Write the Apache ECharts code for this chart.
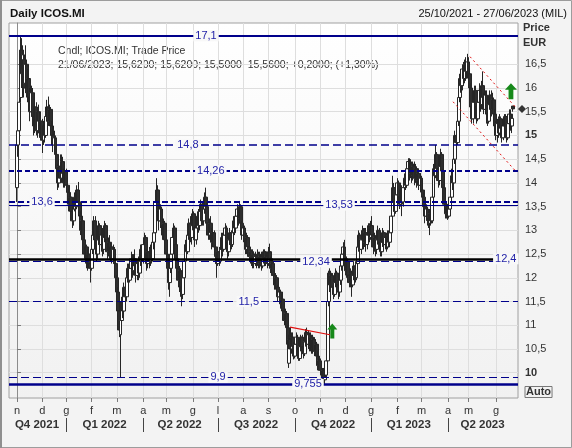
<!DOCTYPE html>
<html><head><meta charset="utf-8">
<script src="https://cdn.jsdelivr.net/npm/echarts@6/dist/echarts.min.js"></script>
<style>html,body{margin:0;padding:0;background:#f3f3f3}#c{width:572px;height:448px}</style>
</head><body><div id="c"></div>
<script>
// Daily candles ICOS.MI, 02/11/2021 .. 21/06/2023 (index = trading day)
const open = [
13.90,14.80,15.10,15.80,16.80,16.40,16.60,16.10,16.50,16.00,
16.20,15.80,15.50,15.90,15.40,15.20,15.60,15.10,15.50,15.30,
15.05,15.30,14.90,15.20,15.00,15.40,15.60,15.30,15.55,15.20,
15.00,14.80,14.95,14.60,14.30,14.00,14.35,14.10,14.45,14.20,
14.00,14.25,13.95,13.80,13.55,13.70,13.40,13.20,13.45,13.70,
13.50,13.85,13.60,13.30,13.00,13.20,12.80,12.50,12.65,12.35,
12.50,12.30,12.20,12.60,12.90,13.20,12.80,12.50,12.80,13.10,
12.70,12.90,12.60,12.85,13.10,12.80,12.55,12.75,12.50,12.65,
12.40,12.60,12.30,12.00,11.70,11.30,10.80,11.10,11.50,11.30,
11.80,11.60,12.00,12.20,11.95,12.20,12.40,12.15,12.40,12.25,
12.05,12.30,12.10,12.35,12.60,12.40,12.70,12.85,12.50,12.30,
12.55,12.35,12.60,12.40,12.75,12.95,13.60,13.85,13.40,13.20,
13.45,13.10,12.90,13.15,12.80,12.50,12.20,11.90,12.20,12.50,
12.85,13.05,12.70,12.40,12.20,11.95,12.15,11.80,11.65,12.00,
12.35,12.70,12.55,12.90,13.15,12.85,13.10,13.35,13.05,12.80,
13.05,13.30,13.10,13.40,13.55,13.20,13.45,13.70,13.50,13.15,
12.90,13.15,12.95,12.75,12.95,12.65,12.45,12.30,12.55,12.35,
12.60,12.85,12.60,12.90,13.05,12.75,12.55,12.80,12.95,12.70,
12.95,13.20,13.05,13.30,13.45,13.25,13.50,13.15,12.90,13.05,
12.80,12.60,12.85,12.65,12.45,12.55,12.35,12.50,12.30,12.45,
12.35,12.50,12.30,12.45,12.25,12.40,12.55,12.35,12.45,12.30,
12.55,12.40,12.20,12.30,12.05,11.85,12.00,11.80,11.60,11.70,
11.45,11.55,11.30,11.10,11.25,10.95,10.20,10.70,10.50,10.75,
10.55,10.35,10.60,10.75,10.50,10.30,10.55,10.75,10.55,10.40,
10.65,10.85,10.60,10.80,10.55,10.75,10.50,10.70,10.45,10.60,
10.35,10.15,10.25,10.05,9.95,10.05,9.85,9.95,10.25,11.50,
12.10,11.85,12.05,11.80,11.65,11.90,12.10,11.85,11.70,11.95,
12.25,12.50,12.65,12.40,12.15,12.35,12.05,11.90,12.10,11.85,
12.05,12.25,12.00,12.30,12.65,12.90,12.60,12.80,13.00,12.75,
12.95,12.70,12.90,13.10,12.85,13.10,12.90,12.65,12.85,12.60,
12.80,13.00,12.75,12.55,12.75,12.95,12.70,12.85,12.65,12.90,
12.75,12.95,13.30,13.90,13.60,13.40,13.75,14.00,13.70,13.55,
13.85,13.60,13.90,14.10,13.95,14.30,14.45,14.20,14.40,14.15,
14.35,14.10,14.30,14.05,14.20,13.95,14.10,13.85,13.70,13.50,
13.30,13.45,13.25,13.15,13.35,13.20,13.70,14.30,14.15,14.60,
14.30,14.05,14.35,14.60,14.25,13.90,13.55,13.35,13.50,13.30,
13.45,13.70,14.15,14.00,14.50,15.00,14.85,15.30,15.80,16.20,
16.05,16.40,16.20,16.50,16.35,16.55,16.30,16.00,15.60,15.35,
15.70,15.95,15.60,15.35,15.70,15.95,15.65,16.05,15.80,15.55,
15.85,15.45,15.30,15.65,15.85,15.55,15.75,15.45,15.20,15.00,
15.25,15.05,15.35,15.15,14.95,15.20,15.40,15.10,14.95,15.25,
15.45,15.20,15.62];
const close = [
14.80,15.10,15.70,16.80,16.30,16.70,16.00,16.50,15.90,16.20,
15.80,15.50,15.90,15.40,15.20,15.60,15.10,15.50,15.30,15.05,
15.30,14.90,15.20,15.00,15.40,15.60,15.30,15.55,15.20,15.00,
14.80,14.95,14.60,14.30,14.00,14.35,14.10,14.45,14.20,14.00,
14.25,13.95,13.80,13.55,13.70,13.40,13.20,13.45,13.70,13.50,
13.85,13.60,13.30,13.00,13.20,12.80,12.50,12.65,12.35,12.50,
12.30,12.20,12.60,12.90,13.20,12.80,12.50,12.80,13.10,12.70,
12.90,12.60,12.85,13.10,12.80,12.55,12.75,12.50,12.65,12.40,
12.60,12.30,12.00,11.70,11.30,10.90,11.10,11.50,11.30,11.80,
11.60,12.00,12.20,11.95,12.20,12.40,12.15,12.40,12.25,12.05,
12.30,12.10,12.35,12.60,12.40,12.70,12.85,12.50,12.30,12.55,
12.35,12.60,12.40,12.75,12.95,13.60,13.85,13.40,13.20,13.45,
13.10,12.90,13.15,12.80,12.50,12.20,11.90,12.20,12.50,12.85,
13.05,12.70,12.40,12.20,11.95,12.15,11.80,11.65,12.00,12.35,
12.70,12.55,12.90,13.15,12.85,13.10,13.35,13.05,12.80,13.05,
13.30,13.10,13.40,13.55,13.20,13.45,13.70,13.50,13.15,12.90,
13.15,12.95,12.75,12.95,12.65,12.45,12.30,12.55,12.35,12.60,
12.85,12.60,12.90,13.05,12.75,12.55,12.80,12.95,12.70,12.95,
13.20,13.05,13.30,13.45,13.25,13.50,13.15,12.90,13.05,12.80,
12.60,12.85,12.65,12.45,12.55,12.35,12.50,12.30,12.45,12.35,
12.50,12.30,12.45,12.25,12.40,12.55,12.35,12.45,12.30,12.55,
12.40,12.20,12.30,12.05,11.85,12.00,11.80,11.60,11.70,11.45,
11.55,11.30,11.10,11.25,10.95,10.60,10.70,10.50,10.75,10.55,
10.35,10.60,10.75,10.50,10.30,10.55,10.75,10.55,10.40,10.65,
10.85,10.60,10.80,10.55,10.75,10.50,10.70,10.45,10.60,10.35,
10.15,10.25,10.05,9.95,10.05,9.85,9.90,10.25,11.50,12.10,
11.85,12.05,11.80,11.65,11.90,12.10,11.85,11.70,11.95,12.25,
12.50,12.65,12.40,12.15,12.35,12.05,11.90,12.10,11.85,12.05,
12.25,12.00,12.30,12.65,12.90,12.60,12.80,13.00,12.75,12.95,
12.70,12.90,13.10,12.85,13.10,12.90,12.65,12.85,12.60,12.80,
13.00,12.75,12.55,12.75,12.95,12.70,12.85,12.65,12.90,12.75,
12.95,13.30,13.90,13.60,13.40,13.75,14.00,13.70,13.55,13.85,
13.60,13.90,14.10,13.95,14.30,14.45,14.20,14.40,14.15,14.35,
14.10,14.30,14.05,14.20,13.95,14.10,13.85,13.70,13.50,13.30,
13.45,13.25,13.15,13.35,13.20,13.70,14.30,14.15,14.60,14.30,
14.05,14.35,14.60,14.25,13.90,13.55,13.35,13.50,13.30,13.45,
13.70,14.15,14.00,14.50,15.00,14.85,15.30,15.80,16.20,16.05,
16.40,16.20,16.50,16.35,16.55,16.30,16.00,15.60,15.35,15.70,
15.95,15.60,15.35,15.70,15.95,15.65,16.05,15.80,15.55,15.85,
15.45,15.30,15.65,15.85,15.55,15.75,15.45,15.20,15.00,15.25,
15.05,15.35,15.15,14.95,15.20,15.40,15.10,14.95,15.25,15.45,
15.20,15.36,15.56];
const low = [
13.60,14.55,15.00,15.70,16.00,16.10,15.80,15.90,15.80,15.70,
15.60,15.30,15.40,15.20,15.00,15.05,15.00,14.95,15.10,14.95,
14.90,14.63,14.80,14.85,14.95,15.30,15.20,15.20,15.10,14.90,
14.65,14.70,14.50,14.20,13.85,13.90,14.00,14.00,14.05,13.90,
13.90,13.85,13.65,13.40,13.45,13.25,13.05,13.10,13.40,13.30,
13.45,13.50,13.20,12.90,12.85,12.70,12.40,12.30,12.20,12.15,
12.20,11.90,12.15,12.50,12.80,12.70,12.35,12.40,12.70,12.60,
12.55,12.45,12.50,12.75,12.70,12.40,12.45,12.40,12.35,12.30,
12.30,12.20,11.90,11.55,11.20,10.75,9.90,10.95,11.15,11.20,
11.45,11.50,11.90,11.85,11.90,12.10,12.00,12.05,12.10,11.90,
11.95,11.95,12.00,12.25,12.25,12.30,12.55,12.40,12.15,12.20,
12.20,12.25,12.30,12.35,12.60,12.90,13.40,13.30,13.00,13.05,
13.00,12.80,12.80,12.70,12.35,12.05,11.75,11.60,12.10,12.40,
12.70,12.55,12.30,12.05,11.80,11.70,11.60,11.40,11.55,11.90,
12.25,12.45,12.50,12.80,12.75,12.70,13.00,12.95,12.65,12.70,
12.95,12.95,13.00,13.25,13.10,13.10,13.35,13.35,13.00,12.80,
12.80,12.85,12.60,12.65,12.55,12.30,12.00,12.25,12.25,12.30,
12.50,12.45,12.55,12.80,12.65,12.40,12.45,12.70,12.60,12.65,
12.85,12.90,12.95,13.20,13.10,13.15,13.00,12.80,12.75,12.65,
12.50,12.50,12.50,12.35,12.30,12.25,12.20,12.20,12.25,12.20,
12.25,12.20,12.20,12.15,12.20,12.30,12.25,12.25,12.20,12.25,
12.30,12.10,12.05,11.95,11.75,11.75,11.70,11.50,11.45,11.35,
11.30,11.20,11.00,11.00,10.85,10.45,10.10,10.40,10.40,10.35,
10.28,10.30,10.50,10.40,10.25,10.25,10.45,10.40,10.30,10.35,
10.55,10.50,10.50,10.45,10.45,10.40,10.40,10.35,10.35,10.25,
10.05,10.05,9.95,9.88,9.85,9.78,9.755,9.90,10.20,11.40,
11.70,11.75,11.65,11.55,11.60,11.80,11.75,11.55,11.60,11.85,
12.15,12.35,12.30,12.05,12.00,11.95,11.80,11.80,11.60,11.80,
11.95,11.90,11.95,12.25,12.55,12.45,12.50,12.70,12.60,12.65,
12.55,12.60,12.80,12.75,12.80,12.75,12.50,12.55,12.45,12.50,
12.70,12.60,12.45,12.45,12.65,12.60,12.60,12.55,12.60,12.65,
12.65,12.90,13.25,13.40,13.30,13.35,13.65,13.55,13.45,13.50,
13.30,13.50,13.80,13.85,13.90,14.20,14.05,14.10,14.00,14.05,
13.95,14.00,13.90,13.95,13.85,13.80,13.70,13.60,13.35,13.15,
13.20,13.10,13.05,12.90,13.10,13.15,13.65,14.00,14.10,14.15,
13.90,13.95,14.25,14.10,13.80,13.45,13.25,13.25,13.22,13.25,
13.40,13.65,13.85,13.95,14.40,14.70,14.80,15.20,15.70,15.90,
15.95,16.05,16.10,16.15,16.20,16.10,15.90,15.45,15.25,15.25,
15.55,15.45,15.25,15.30,15.60,15.50,15.55,15.60,15.45,15.45,
15.25,15.20,15.25,15.55,15.40,15.45,15.35,15.10,14.90,14.85,
14.95,15.00,15.00,14.85,14.90,15.10,15.00,14.85,14.90,15.15,
15.10,15.05,15.50];
const high = [
14.95,15.30,15.90,17.10,17.05,16.90,16.70,16.90,16.60,16.40,
16.40,16.00,16.05,16.00,15.60,15.70,15.70,15.60,15.65,15.50,
15.40,15.35,15.30,15.40,15.50,15.75,15.82,15.65,15.60,15.30,
15.20,15.10,15.00,14.75,14.40,14.45,14.60,14.60,14.55,14.30,
14.35,14.30,14.05,13.90,13.80,13.75,13.50,13.55,13.80,13.75,
13.95,14.02,13.70,13.40,13.30,13.25,12.90,12.75,12.70,12.60,
12.60,12.40,12.70,13.00,13.30,13.30,12.90,12.90,13.20,13.15,
13.00,13.05,12.95,13.20,13.15,12.90,12.85,12.90,12.75,12.70,
12.70,12.65,12.40,12.05,11.80,11.40,11.20,11.60,11.70,11.90,
11.95,12.10,12.30,12.30,12.35,12.55,12.50,12.50,12.60,12.35,
12.40,12.45,12.45,12.70,12.70,12.80,12.95,12.90,12.60,12.65,
12.65,12.70,12.75,12.85,13.05,13.75,14.10,13.95,13.55,13.55,
13.50,13.25,13.25,13.20,12.85,12.60,12.30,12.30,12.60,12.95,
13.15,13.10,12.80,12.50,12.30,12.25,12.20,11.95,12.10,12.45,
12.80,12.85,13.00,13.25,13.30,13.20,13.45,13.40,13.10,13.15,
13.40,13.45,13.50,13.65,13.60,13.55,13.80,13.90,13.60,13.25,
13.25,13.30,13.05,13.05,13.00,12.70,12.55,12.65,12.65,12.70,
12.95,12.95,13.00,13.15,13.10,12.85,12.90,13.05,13.00,13.05,
13.30,13.30,13.40,13.55,13.50,13.62,13.55,13.20,13.10,13.10,
12.95,12.95,12.90,12.75,12.65,12.60,12.60,12.55,12.55,12.50,
12.60,12.55,12.55,12.55,12.50,12.60,12.60,12.55,12.50,12.65,
12.72,12.45,12.35,12.35,12.10,12.10,12.05,11.85,11.80,11.75,
11.65,11.60,11.40,11.35,11.30,11.00,10.80,10.96,10.85,10.85,
10.65,10.70,10.85,10.80,10.60,10.65,10.80,10.80,10.65,10.75,
10.92,10.95,10.90,10.85,10.85,10.80,10.80,10.75,10.70,10.65,
10.45,10.35,10.30,10.15,10.10,10.10,9.98,10.30,11.55,12.15,
12.20,12.15,12.10,11.90,12.00,12.20,12.15,11.95,12.05,12.35,
12.60,12.75,12.80,12.50,12.45,12.40,12.15,12.20,12.15,12.15,
12.35,12.35,12.40,12.75,13.00,12.95,12.90,13.10,13.05,13.05,
13.05,13.00,13.15,13.15,13.20,13.30,12.95,12.95,12.90,12.90,
13.10,13.05,12.85,12.85,13.05,13.00,12.95,12.95,13.00,13.00,
13.05,13.40,14.15,14.00,13.70,13.85,14.10,14.05,13.80,13.95,
13.95,14.00,14.20,14.25,14.40,14.52,14.52,14.50,14.45,14.45,
14.45,14.40,14.35,14.30,14.25,14.20,14.15,13.95,13.80,13.55,
13.55,13.50,13.35,13.45,13.45,13.80,14.40,14.45,14.80,14.65,
14.40,14.45,14.72,14.65,14.30,13.95,13.60,13.60,13.55,13.55,
13.80,14.30,14.30,14.60,15.10,15.25,15.40,15.90,16.30,16.40,
16.50,16.55,16.60,16.65,16.72,16.65,16.40,16.10,15.70,15.85,
16.05,16.05,15.70,15.80,16.10,16.00,16.15,16.35,15.90,15.95,
15.95,15.60,15.75,15.95,15.95,15.90,15.80,15.55,15.30,15.35,
15.40,15.45,15.40,15.20,15.30,15.45,15.45,15.20,15.35,15.55,
15.55,15.45,15.62];

// axis ticks / labels
const monthTickIdx = [0,21,41,62,83,105,124,146,167,188,209,231,252,273,294,316,336,358,375,398];
const monthLetters = ['n','d','g','f','m','a','m','g','l','a','s','o','n','d','g','f','m','a','m','g'];
const quarterBounds = [41,105,167,231,294,358];
const quarterCenters = [16.6,72.7,135.1,198.5,262.5,325.4,386.7];
const quarterLabels = ['Q4 2021','Q1 2022','Q2 2022','Q3 2022','Q4 2022','Q1 2023','Q2 2023'];
const priceTicks = [10,10.5,11,11.5,12,12.5,13,13.5,14,14.5,15,15.5,16,16.5];

// horizontal levels and annotations
const levels = [17.1,14.8,14.26,13.6,13.53,12.4,12.34,11.5,9.9,9.755];
const levelLabelAt = [157,142,161,20.8,267.5,406,248.4,192.5,167,241.7];
const trendUpper = [[376.3,16.66],[413.6,15.61]];
const trendLower = [[362.2,15.71],[414.5,14.24]];
const trendNov = [[226.8,10.96],[260,10.80]];
const arrowsUp = [[261.9,10.88],[410.3,15.93]];

const FONT = '"Liberation Sans", Arial, sans-serif';
const NAVY = '#00008b';
const LBL = '#2323a8';
const levelStyles = [
  {color:NAVY,width:2,type:'solid'},
  {color:NAVY,width:1.5,type:[8,4]},
  {color:NAVY,width:2,type:[5,3]},
  {color:NAVY,width:2,type:[6,3]},
  {color:NAVY,width:1,type:'solid'},
  {color:'#000000',width:2.5,type:'solid'},
  {color:NAVY,width:1,type:[8,4]},
  {color:NAVY,width:1,type:[8,4]},
  {color:NAVY,width:1,type:[8,4]},
  {color:NAVY,width:2.5,type:'solid'}
];
const fmt = v => String(v).replace('.', ',');

const rows = open.map((o, i) => [i, o, close[i], low[i], high[i]]);
const nLast = open.length - 1;

const markLineData = levels.map((lv, k) => ({yAxis: lv, lineStyle: levelStyles[k]}));
markLineData.push([{coord: trendUpper[0]}, {coord: trendUpper[1], lineStyle:{color:'#e01010',width:1,type:[2,3]}}]);
markLineData.push([{coord: trendLower[0]}, {coord: trendLower[1], lineStyle:{color:'#e01010',width:1,type:[2,3]}}]);
markLineData.push([{coord: trendNov[0]}, {coord: trendNov[1], lineStyle:{color:'#e01010',width:1.2,type:'solid'}}]);

const arrowPath = 'path://M5,0 L10,6 L7,6 L7,15 L3,15 L3,6 L0,6 Z';
const markPointData = levels.map((lv, k) => ({
  coord: [levelLabelAt[k], lv], symbol: 'rect', symbolSize: [1,1],
  itemStyle: {color: 'rgba(0,0,0,0)'},
  label: {show: true, position: 'inside', formatter: fmt(lv), color: LBL, fontSize: 11,
          fontFamily: FONT, backgroundColor: '#f8f8f8', padding: [0,2,0,2]}
}));
markPointData.push({coord: arrowsUp[0], symbol: arrowPath, symbolSize: [10,15], itemStyle:{color:'#17891a'}, label:{show:false}});
markPointData.push({coord: arrowsUp[1], symbol: arrowPath, symbolSize: [12,16], itemStyle:{color:'#17891a'}, label:{show:false}});
markPointData.push({coord: [nLast, close[nLast]], symbol: 'diamond', symbolSize: [8,8], symbolOffset: [9,0], itemStyle:{color:'#333333'}, label:{show:false}});

const chart = echarts.init(document.getElementById('c'), null, {renderer: 'canvas'});
chart.setOption({
  animation: false,
  backgroundColor: '#f3f3f3',
  textStyle: {fontFamily: FONT},
  grid: {
    left: 9, right: 54, top: 23, bottom: 50, show: true,
    borderColor: '#a0a0a0', borderWidth: 1,
    backgroundColor: new echarts.graphic.LinearGradient(0,0,0,1,[{offset:0,color:'#ffffff'},{offset:1,color:'#f1f1f1'}])
  },
  xAxis: [{
    type: 'value', min: -6.645, max: 416.15,
    axisLine: {show: false},
    axisTick: {show: true, customValues: monthTickIdx, length: 4, lineStyle: {color: '#7a7a7a'}},
    axisLabel: {customValues: monthTickIdx, margin: 7, color: '#333', fontSize: 11, fontFamily: FONT,
      formatter: v => monthLetters[monthTickIdx.indexOf(v)] || ''},
    splitLine: {show: true, lineStyle: {color: '#dedede', width: 1}}
  }, {
    type: 'value', min: -6.645, max: 416.15, position: 'bottom', offset: 20,
    axisLine: {show: false},
    axisTick: {show: true, customValues: quarterBounds, length: 14, lineStyle: {color: '#444', width: 1}},
    axisLabel: {customValues: quarterCenters, margin: 1, color: '#333', fontSize: 11.5, fontWeight: 'bold', fontFamily: FONT,
      formatter: v => quarterLabels[quarterCenters.indexOf(v)] || ''},
    splitLine: {show: false}
  }],
  yAxis: {
    type: 'value', position: 'right', min: 9.467, max: 17.37,
    axisLine: {show: true, lineStyle: {color: '#8c8c8c'}},
    axisTick: {show: true, customValues: priceTicks, length: 4, lineStyle: {color: '#7a7a7a'}},
    axisLabel: {customValues: priceTicks, margin: 7, color: '#333', fontSize: 11, fontFamily: FONT,
      formatter: v => (v === 10 || v === 15) ? '{b|' + fmt(v) + '}' : fmt(v),
      rich: {b: {fontWeight: 'bold', fontSize: 11, color: '#333', fontFamily: FONT}}},
    splitLine: {show: true, lineStyle: {color: '#dedede', width: 1}}
  },
  series: [{
    type: 'candlestick',
    data: rows,
    encode: {x: 0, y: [1, 2, 3, 4]},
    barWidth: 3.4,
    itemStyle: {color: '#ffffff', color0: '#2e2e2e', borderColor: '#262626', borderColor0: '#262626', borderWidth: 1},
    markLine: {silent: true, symbol: ['none','none'], label: {show: false}, data: markLineData, animation: false},
    markPoint: {silent: true, z: 6, data: markPointData, animation: false}
  }],
  graphic: [
    {type:'rect', silent:true, shape:{x:0.5,y:0.5,width:571,height:447}, style:{fill:'none', stroke:'#9c9c9c', lineWidth:1}},
    {type:'rect', silent:true, shape:{x:0,y:0,width:2,height:448}, style:{fill:'#8f8f8f'}},
    {type:'text', x:10, y:14, style:{text:'Daily ICOS.MI', font:'bold 11.5px ' + FONT, fill:'#111', verticalAlign:'middle', align:'left'}},
    {type:'text', x:567, y:14, style:{text:'25/10/2021 - 27/06/2023 (MIL)', font:'11px ' + FONT, fill:'#111', verticalAlign:'middle', align:'right'}},
    {type:'text', x:58, y:51, style:{text:'Cndl; ICOS.MI; Trade Price', font:'10.5px ' + FONT, fill:'#333', verticalAlign:'middle', align:'left'}},
    {type:'text', x:58, y:65.5, style:{text:'21/06/2023; 15,6200; 15,6200; 15,5000; 15,5600; +0,2000; (+1,30%)', font:'10.5px ' + FONT, fill:'#333', verticalAlign:'middle', align:'left'}},
    {type:'text', x:523, y:28, style:{text:'Price', font:'bold 11px ' + FONT, fill:'#333', verticalAlign:'middle', align:'left'}},
    {type:'text', x:523, y:42.5, style:{text:'EUR', font:'bold 11px ' + FONT, fill:'#333', verticalAlign:'middle', align:'left'}},
    {type:'text', x:525, y:392, style:{text:'Auto', font:'bold 11px ' + FONT, fill:'#333', verticalAlign:'middle', align:'left', borderColor:'#777', borderWidth:1, padding:[0,1,0,1]}}
  ]
});
</script></body></html>
